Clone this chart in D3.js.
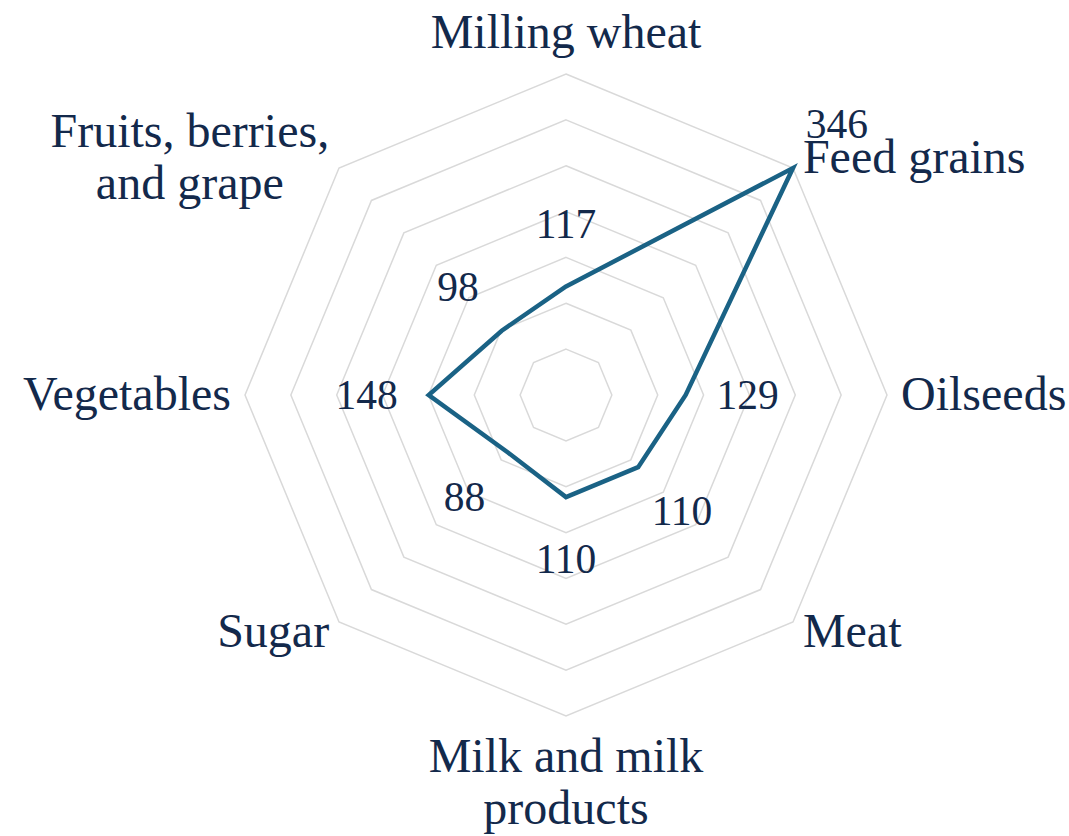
<!DOCTYPE html>
<html>
<head>
<meta charset="utf-8">
<script src="https://cdn.jsdelivr.net/npm/d3@7"></script>
<style>
  html, body { margin: 0; padding: 0; background: #fff; }
  svg { display: block; }
</style>
</head>
<body>
<script>
// categories clockwise from the top, "\n" marks a line break in the label
const categories = [
  "Milling wheat",
  "Feed grains",
  "Oilseeds",
  "Meat",
  "Milk and milk\nproducts",
  "Sugar",
  "Vegetables",
  "Fruits, berries,\nand grape"
];
const values = [117, 346, 129, 110, 110, 88, 148, 98];
const ringCount = 7;

const width = 1069, height = 836;
const cx = 566, cy = 395, radius = 321;
const textColor = "#13294b";
const lineColor = "#1a6285";
const gridColor = "#d9d9d9";
const font = "'Liberation Serif', 'Times New Roman', serif";

const svg = d3.select("body").append("svg")
  .attr("width", width)
  .attr("height", height);

const g = svg.append("g").attr("transform", `translate(${cx},${cy})`);

const n = categories.length;
const angle = d3.scaleLinear().domain([0, n]).range([0, 2 * Math.PI]);
const r = d3.scaleLinear().domain([0, d3.max(values)]).range([0, radius]);

// polar -> cartesian, angle 0 at 12 o'clock going clockwise
const px = (a, rad) => rad * Math.sin(a);
const py = (a, rad) => -rad * Math.cos(a);

// octagon grid rings
const ringValues = d3.range(1, ringCount + 1).map(k => r.domain()[1] * k / ringCount);
const ringLine = d3.lineRadial()
  .angle((d, i) => angle(i))
  .radius(d => d)
  .curve(d3.curveLinearClosed);

g.append("g").selectAll("path")
  .data(ringValues)
  .join("path")
  .attr("d", v => ringLine(d3.range(n).map(() => r(v))))
  .attr("fill", "none")
  .attr("stroke", gridColor)
  .attr("stroke-width", 1.5);

// data polygon
const dataLine = d3.lineRadial()
  .angle((d, i) => angle(i))
  .radius(d => r(d))
  .curve(d3.curveLinearClosed);

g.append("path")
  .datum(values)
  .attr("d", dataLine)
  .attr("fill", "none")
  .attr("stroke", lineColor)
  .attr("stroke-width", 4.5)
  .attr("stroke-linejoin", "miter");

// value labels, pushed out past each point
g.append("g").selectAll("text")
  .data(values)
  .join("text")
  .attr("x", (d, i) => px(angle(i), r(d) + 62))
  .attr("y", (d, i) => py(angle(i), r(d) + 62) + 14)
  .attr("text-anchor", "middle")
  .attr("font-family", font)
  .attr("font-size", 41.5)
  .attr("fill", textColor)
  .text(d => d);

// category labels
const lineH = 52;
const labelR = radius + 14;
categories.forEach((cat, i) => {
  const a = angle(i);
  const x0 = px(a, labelR), y0 = py(a, labelR);
  const lines = cat.split("\n");
  const s = Math.sin(a), c = Math.cos(a);

  const t = g.append("text")
    .attr("font-family", font)
    .attr("font-size", 48)
    .attr("fill", textColor)
    .attr("text-anchor", "middle");

  const spans = lines.map(l => t.append("tspan").text(l));
  const maxW = d3.max(spans, sp => sp.node().getComputedTextLength());

  let x = x0;
  if (s > 0.01) x = x0 + maxW / 2;
  else if (s < -0.01) x = x0 - maxW / 2;

  spans.forEach((sp, j) => {
    let y;
    if (Math.abs(s) <= 0.01 && c > 0) y = y0 - 12 - (lines.length - 1 - j) * lineH;
    else if (Math.abs(s) <= 0.01) y = y0 + 42 + j * lineH;
    else y = y0 + 15 + (j - (lines.length - 1) / 2) * lineH;
    sp.attr("x", x).attr("y", y);
  });
});
</script>
</body>
</html>
